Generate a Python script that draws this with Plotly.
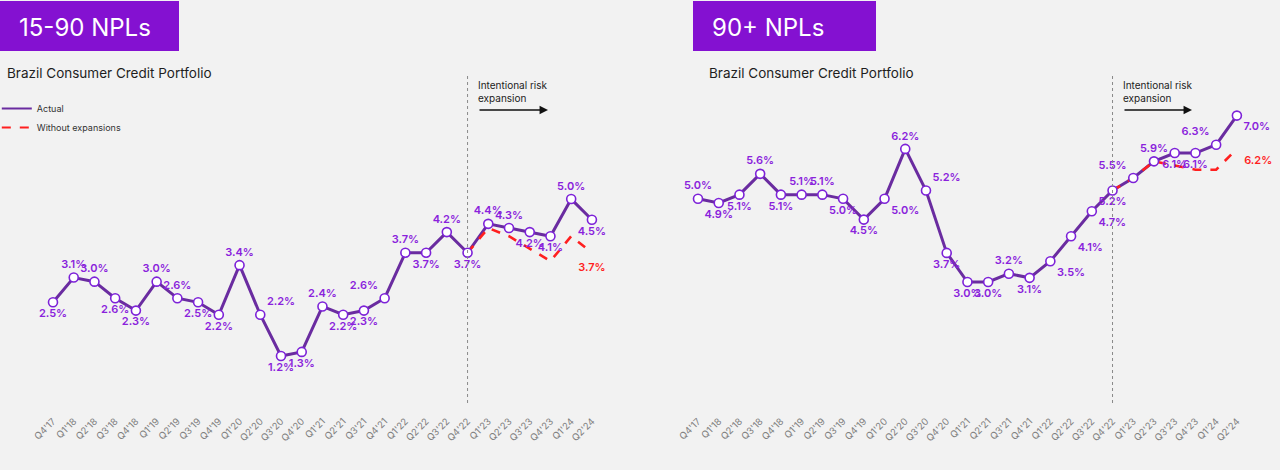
import plotly.graph_objects as go

# ---------------- data ----------------
quarters = ["Q4'17", "Q1'18", "Q2'18", "Q3'18", "Q4'18", "Q1'19", "Q2'19", "Q3'19", "Q4'19",
            "Q1'20", "Q2'20", "Q3'20", "Q4'20", "Q1'21", "Q2'21", "Q3'21", "Q4'21",
            "Q1'22", "Q2'22", "Q3'22", "Q4'22", "Q1'23", "Q2'23", "Q3'23", "Q4'23",
            "Q1'24", "Q2'24"]
expansion_quarters = ["Q4'22", "Q1'23", "Q2'23", "Q3'23", "Q4'23", "Q1'24", "Q2'24"]

npl15_actual = [2.5, 3.1, 3.0, 2.6, 2.3, 3.0, 2.6, 2.5, 2.2, 3.4, 2.2, 1.2, 1.3, 2.4, 2.2, 2.3, 2.6,
                3.7, 3.7, 4.2, 3.7, 4.4, 4.3, 4.2, 4.1, 5.0, 4.5]
npl15_without = [3.7, 4.3, 4.1, 3.8, 3.5, 4.1, 3.7]

npl90_actual = [5.0, 4.9, 5.1, 5.6, 5.1, 5.1, 5.1, 5.0, 4.5, 5.0, 6.2, 5.2, 3.7, 3.0, 3.0, 3.2, 3.1,
                3.5, 4.1, 4.7, 5.2, 5.5, 5.9, 6.1, 6.1, 6.3, 7.0]
npl90_without = [5.2, 5.5, 5.9, 5.8, 5.7, 5.7, 6.2]

# ---------------- styles ----------------
W, H = 1280, 470
BG = "#f2f2f2"
LINE_PURPLE = "#6a2ca0"
MARK_PURPLE = "#7d22d8"
LABEL_PURPLE = "#8a22dc"
RED = "#ff1f1f"
HEADER = "#8411d1"
FONT = "Inter"
LABEL_SIZE = 11

pos15 = ["bottom center", "top center", "top center", "bottom center", "bottom center", "top center",
         "top center", "bottom center", "bottom center", "top center", "top right", "bottom center",
         "bottom center", "top center", "bottom center", "bottom center", "top left", "top center",
         "bottom center", "top center", "bottom center", "top center", "top center", "bottom center",
         "bottom center", "top center", "bottom center"]
pos90 = ["top center", "bottom center", "bottom center", "top center", "bottom center", "top center",
         "top center", "bottom center", "bottom center", "bottom right", "top center", "top right",
         "bottom center", "bottom center", "bottom center", "top center", "bottom center", "bottom right",
         "bottom right", "bottom right", "bottom center", "top left", "top center", "bottom center",
         "bottom center", "top left", "bottom right"]

def pct(vals):
    return [f"{v:.1f}%" for v in vals]

fig = go.Figure()

panels = [
    ("x", "y", npl15_actual, npl15_without, pos15, "bottom center", 15),
    ("x2", "y2", npl90_actual, npl90_without, pos90, "bottom right", 10),
]
for xa, ya, actual, without, pos, redpos, redpad in panels:
    fig.add_trace(go.Scatter(
        x=quarters, y=actual, xaxis=xa, yaxis=ya, mode="lines",
        line=dict(color=LINE_PURPLE, width=3),
        showlegend=False, hoverinfo="skip"))
    n = len(without)
    wo_text = [""] * (n - 1) + [f"{without[-1]:.1f}%"]
    fig.add_trace(go.Scatter(
        x=expansion_quarters, y=without, xaxis=xa, yaxis=ya, mode="lines+markers+text",
        line=dict(color=RED, width=2.6, dash="dash"),
        marker=dict(size=[0] * (n - 1) + [redpad], color="rgba(0,0,0,0)",
                    line=dict(width=0, color="rgba(0,0,0,0)")),
        text=wo_text, textposition=redpos,
        textfont=dict(family=FONT, size=LABEL_SIZE, color=RED, weight=600),
        showlegend=False, hoverinfo="skip", cliponaxis=False))
    fig.add_trace(go.Scatter(
        x=quarters, y=actual, xaxis=xa, yaxis=ya, mode="markers+text",
        marker=dict(size=9, color="white", line=dict(color=MARK_PURPLE, width=1.6)),
        text=pct(actual), textposition=pos,
        textfont=dict(family=FONT, size=LABEL_SIZE, color=LABEL_PURPLE, weight=600),
        showlegend=False, cliponaxis=False))

# legend-only traces
fig.add_trace(go.Scatter(x=[None], y=[None], mode="lines", name="Actual",
                         line=dict(color=LINE_PURPLE, width=2)))
fig.add_trace(go.Scatter(x=[None], y=[None], mode="lines", name="Without expansions",
                         line=dict(color=RED, width=2, dash="dash")))

axis_common = dict(type="category", categoryorder="array", categoryarray=quarters,
                   showgrid=False, zeroline=False, showline=False,
                   ticks="", tickangle=-45, tickfont=dict(family=FONT, size=9.5, color="#808080"),
                   fixedrange=True)
yaxis_common = dict(showgrid=False, zeroline=False, showline=False, showticklabels=False,
                    fixedrange=True, domain=[57 / H, 1])

fig.update_layout(
    width=W, height=H, autosize=False,
    margin=dict(l=0, r=0, t=0, b=0, pad=0, autoexpand=False),
    paper_bgcolor=BG, plot_bgcolor=BG,
    font=dict(family=FONT, color="#222"),
    xaxis=dict(axis_common, domain=[0, 0.5], range=[-2.557, 28.32], anchor="y"),
    yaxis=dict(yaxis_common, range=[-0.18, 9.82], anchor="x"),
    xaxis2=dict(axis_common, domain=[0.5, 1], range=[-2.798, 28.08], anchor="y2"),
    yaxis2=dict(yaxis_common, range=[-0.149, 9.779], anchor="x2"),
    legend=dict(x=-0.0025, y=1 - 94 / H, xanchor="left", yanchor="top",
                bgcolor="rgba(0,0,0,0)", font=dict(family=FONT, size=9, color="#333"),
                tracegroupgap=0, itemwidth=30),
    showlegend=True,
)

shapes = []
annotations = []
# header boxes
for x0, x1, title in [(0, 179, "15-90 NPLs"), (693, 876, "90+ NPLs")]:
    shapes.append(dict(type="rect", xref="paper", yref="paper", x0=x0 / W, x1=x1 / W,
                       y0=1 - 51 / H, y1=1 - 1 / H, fillcolor=HEADER, line=dict(width=0), layer="below"))
    annotations.append(dict(xref="paper", yref="paper", x=(x0 + 17) / W, y=1 - 27 / H,
                            xanchor="left", yanchor="middle", showarrow=False, text=title,
                            font=dict(family=FONT, size=24, color="white")))
# subtitles
for x0 in [5, 707]:
    annotations.append(dict(xref="paper", yref="paper", x=x0 / W, y=1 - 73 / H,
                            xanchor="left", yanchor="middle", showarrow=False,
                            text="Brazil Consumer Credit Portfolio",
                            font=dict(family=FONT, size=13.5, color="#1e1e1e")))
# dotted separator + annotation
for xa, top, tx, ax0, ax1 in [("x", 73, 476, 478, 548), ("x2", 75, 1121, 1123, 1192)]:
    shapes.append(dict(type="line", xref=xa, yref="paper", x0="Q4'22", x1="Q4'22",
                       y0=1 - 403 / H, y1=1 - top / H, line=dict(color="#8a8a8a", width=1, dash="dot")))
    annotations.append(dict(xref="paper", yref="paper", x=tx / W, y=1 - 91 / H,
                            xanchor="left", yanchor="middle", align="left", showarrow=False,
                            text="Intentional risk<br>expansion",
                            font=dict(family=FONT, size=10, color="#222")))
    annotations.append(dict(xref="paper", yref="paper", x=ax1 / W, y=1 - 110 / H,
                            ax=-(ax1 - ax0), ay=0, text="", showarrow=True,
                            arrowhead=2, arrowsize=1.3, arrowwidth=1.3, arrowcolor="#111"))

fig.update_layout(shapes=shapes, annotations=annotations)
fig.write_html("out.html")
